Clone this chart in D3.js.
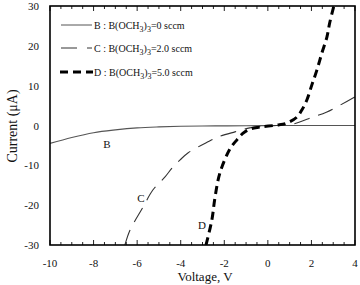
<!DOCTYPE html>
<html><head><meta charset="utf-8">
<script src="https://cdn.jsdelivr.net/npm/d3@7"></script>
<style>body{margin:0;background:#fff}svg{display:block}</style>
</head><body><svg id="c" width="360" height="285" font-family="'Liberation Serif', 'Times New Roman', 'DejaVu Serif', serif"></svg>
<script>
const xTicks = [-10,-8,-6,-4,-2,0,2,4];
const yTicks = [30,20,10,0,-10,-20,-30];
const vB = [-10,-9,-8,-7,-6,-5,-4,-3,-2,-1,0,1,2,3,4];
const iB = [-4.5,-3.0,-1.8,-1.1,-0.6,-0.35,-0.2,-0.12,-0.1,-0.06,-0.03,0,0,0,0];
const vC = [-6.56,-6.33,-5.73,-5.28,-4.72,-4.40,-4.04,-3.67,-2.75,-2.29,-1.51,-0.83,0,1.1,2.06,2.71,4.0];
const iC = [-30,-26.3,-20.5,-16.2,-12.9,-10.7,-8.7,-6.9,-4.1,-2.9,-1.6,-0.6,-0.1,0.3,2.1,3.4,7.2];
const vD = [-2.84,-2.57,-2.43,-2.20,-1.74,-1.42,-1.15,-0.83,-0.37,0.41,0.87,1.33,1.56,1.79,2.02,2.25,2.48,2.71,2.84,3.03];
const iD = [-30,-23.7,-18.2,-11.9,-5.9,-3.6,-2.0,-0.9,-0.4,0.1,0.6,2.1,3.9,6.4,10.2,13.9,18.2,22.2,25.8,30];
const legendLabels = ["B : B(OCH", "C : B(OCH", "D : B(OCH"];
const legendValues = ["=0  sccm", "=2.0 sccm", "=5.0 sccm"];

const svg = d3.select("#c");
const L=50,R=355,T=6,B=245;
const x = d3.scaleLinear().domain([-10,4]).range([L,R]);
const y = d3.scaleLinear().domain([-30,30]).range([B,T]);

svg.append("defs").append("clipPath").attr("id","clip").append("rect")
  .attr("x",L).attr("y",T).attr("width",R-L).attr("height",B-T);

const minor = d3.range(-10,4.01,0.5);
minor.forEach(v=>{
  const major = Math.abs(v/2-Math.round(v/2))<1e-6;
  const len = major?5:3;
  svg.append("line").attr("x1",x(v)).attr("x2",x(v)).attr("y1",B).attr("y2",B-len).attr("stroke","#222").attr("stroke-width",1);
  svg.append("line").attr("x1",x(v)).attr("x2",x(v)).attr("y1",T).attr("y2",T+len).attr("stroke","#222").attr("stroke-width",1);
});

svg.selectAll(".xt").data(xTicks).enter().append("text")
  .attr("x",d=>x(d)).attr("y",267).attr("text-anchor","middle").attr("font-size",11).attr("fill","#111").text(d=>d);
svg.selectAll(".yt").data(yTicks).enter().append("text")
  .attr("x",39).attr("y",d=>y(d)+4).attr("text-anchor","end").attr("font-size",11).attr("fill","#111").text(d=>d);

const line = d3.line().x(d=>x(d[0])).y(d=>y(d[1])).curve(d3.curveCatmullRom.alpha(0.5));
const g = svg.append("g").attr("clip-path","url(#clip)");
g.append("path").attr("d",line(vB.map((v,i)=>[v,iB[i]]))).attr("fill","none").attr("stroke","#555").attr("stroke-width",1.1);
g.append("path").attr("d",line(vC.map((v,i)=>[v,iC[i]]))).attr("fill","none").attr("stroke","#333").attr("stroke-width",1.1).attr("stroke-dasharray","16,9");
g.append("path").attr("d",line(vD.map((v,i)=>[v,iD[i]]))).attr("fill","none").attr("stroke","#000").attr("stroke-width",3).attr("stroke-dasharray","8,5");

svg.append("rect").attr("x",L).attr("y",T).attr("width",R-L).attr("height",B-T)
  .attr("fill","none").attr("stroke","#000").attr("stroke-width",1.6);

const ly=[25,48,72];
svg.append("line").attr("x1",61).attr("x2",92).attr("y1",ly[0]).attr("y2",ly[0]).attr("stroke","#555").attr("stroke-width",1);
svg.append("line").attr("x1",61).attr("x2",77).attr("y1",ly[1]).attr("y2",ly[1]).attr("stroke","#333").attr("stroke-width",1);
svg.append("line").attr("x1",87).attr("x2",92).attr("y1",ly[1]).attr("y2",ly[1]).attr("stroke","#333").attr("stroke-width",1);
svg.append("line").attr("x1",60).attr("x2",93).attr("y1",ly[2]).attr("y2",ly[2]).attr("stroke","#000").attr("stroke-width",3).attr("stroke-dasharray","8,5");
legendLabels.forEach((lab,i)=>{
  const t = svg.append("text").attr("x",94).attr("y",ly[i]+3.5).attr("font-size",10).attr("fill","#111");
  t.append("tspan").text(lab);
  t.append("tspan").attr("dy",3).attr("font-size",8).text("3");
  t.append("tspan").attr("dy",-3).text(")");
  t.append("tspan").attr("dy",3).attr("font-size",8).text("3");
  t.append("tspan").attr("dy",-3).text(legendValues[i]);
});

svg.append("text").attr("x",107).attr("y",148).attr("text-anchor","middle").attr("font-size",11).attr("fill","#111").text("B");
svg.append("text").attr("x",141).attr("y",202).attr("text-anchor","middle").attr("font-size",11).attr("fill","#111").text("C");
svg.append("text").attr("x",202).attr("y",229).attr("text-anchor","middle").attr("font-size",11).attr("fill","#111").text("D");

svg.append("text").attr("transform","translate(17,126) rotate(-90)").attr("text-anchor","middle").attr("font-size",14).attr("fill","#111").text("Current  (\u03bcA)");
svg.append("text").attr("x",205).attr("y",281).attr("text-anchor","middle").attr("font-size",13).attr("fill","#111").text("Voltage, V");
</script></body></html>
